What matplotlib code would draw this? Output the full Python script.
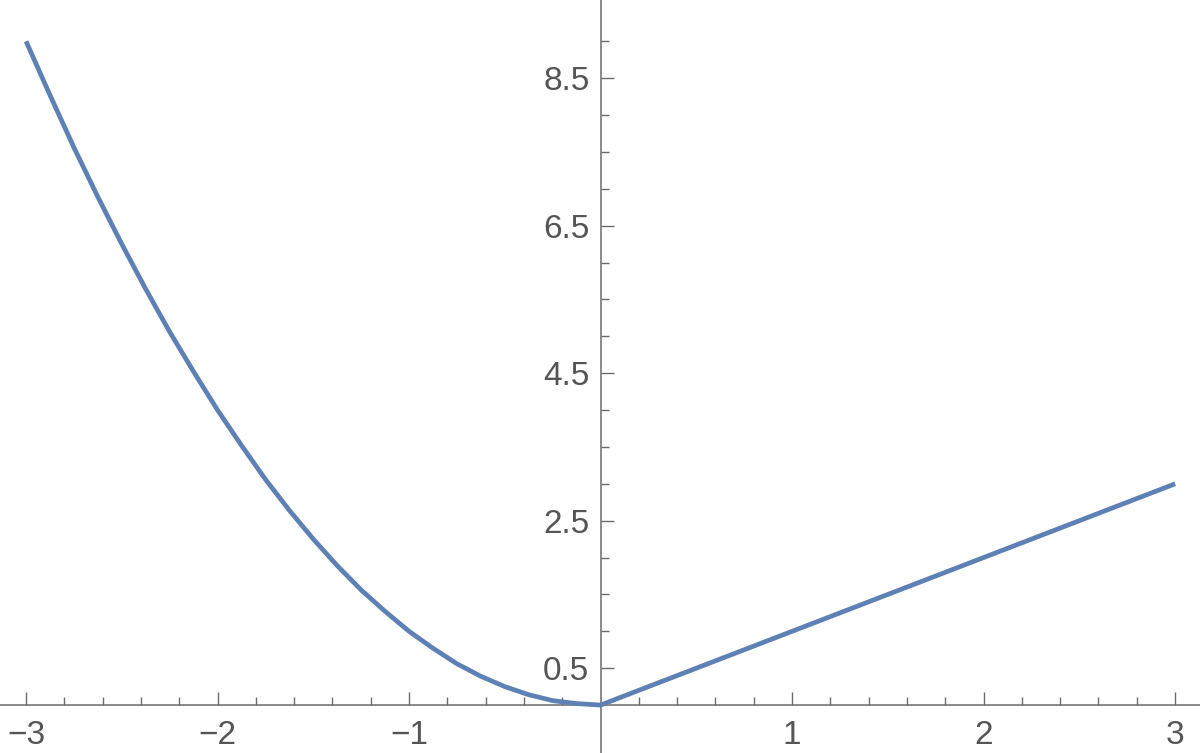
import numpy as np
import matplotlib.pyplot as plt
from matplotlib.ticker import FixedLocator

# values
x_left = [-3.0, -2.875, -2.75, -2.625, -2.5, -2.375, -2.25, -2.125, -2.0,
          -1.875, -1.75, -1.625, -1.5, -1.375, -1.25, -1.125, -1.0,
          -0.875, -0.75, -0.625, -0.5, -0.375, -0.25, -0.125, 0.0]
y_left = [9.0, 8.27, 7.56, 6.89, 6.25, 5.64, 5.06, 4.52, 4.0,
          3.52, 3.06, 2.64, 2.25, 1.89, 1.56, 1.27, 1.0,
          0.77, 0.56, 0.39, 0.25, 0.14, 0.06, 0.02, 0.0]
x_right = [0.0, 0.5, 1.0, 1.5, 2.0, 2.5, 3.0]
y_right = [0.0, 0.5, 1.0, 1.5, 2.0, 2.5, 3.0]

x_major = [-3, -2, -1, 1, 2, 3]
y_major = [0.5, 2.5, 4.5, 6.5, 8.5]
y_minor = [1.0, 1.5, 2.0, 3.0, 3.5, 4.0, 5.0, 5.5, 6.0, 7.0, 7.5, 8.0, 9.0]

axis_gray = '#6b6b6b'
label_gray = '#555555'
line_blue = '#5e81b5'

plt.rcParams['font.family'] = ['Liberation Sans', 'DejaVu Sans']

fig = plt.figure(figsize=(12, 7.53), dpi=100)
ax = fig.add_axes([0, 0, 1, 1])

ax.plot(x_left + x_right[1:], y_left + y_right[1:], color=line_blue,
        linewidth=3.4, solid_capstyle='butt', solid_joinstyle='round', zorder=3)

ax.set_xlim(-3.136, 3.13)
ax.set_ylim(-0.65, 9.56)

for s in ['top', 'right']:
    ax.spines[s].set_visible(False)
ax.spines['left'].set_position(('data', 0))
ax.spines['bottom'].set_position(('data', 0))
for s in ['left', 'bottom']:
    ax.spines[s].set_color(axis_gray)
    ax.spines[s].set_linewidth(1.1)

ax.xaxis.set_major_locator(FixedLocator(x_major))
ax.xaxis.set_minor_locator(FixedLocator(
    [v / 5 for v in range(-15, 16) if v % 5 != 0]))
ax.yaxis.set_major_locator(FixedLocator(y_major))
ax.yaxis.set_minor_locator(FixedLocator(y_minor))
ax.xaxis.set_major_formatter(plt.FuncFormatter(lambda v, p: f'{v:g}'.replace('-', '\u2212')))
ax.yaxis.set_major_formatter(plt.FuncFormatter(lambda v, p: f'{v:.1f}'))

ax.tick_params(which='both', direction='in', color=axis_gray, width=1.0,
               labelcolor=label_gray, labelsize=24)
ax.tick_params(which='major', length=9.5)
ax.tick_params(which='minor', length=5.8)
ax.tick_params(axis='x', which='major', pad=10.5)
ax.tick_params(axis='y', which='major', pad=8)

fig.savefig('out.png', dpi=100)
